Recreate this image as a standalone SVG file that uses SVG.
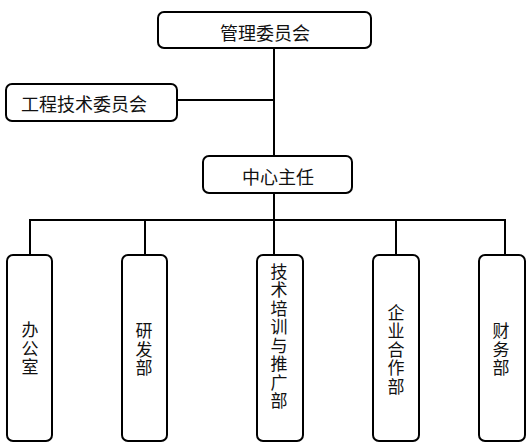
<svg xmlns="http://www.w3.org/2000/svg" width="531" height="445" viewBox="0 0 531 445">
<style>
.box{fill:#fff;stroke:#000;stroke-width:2}
.ln{fill:none;stroke:#000;stroke-width:2}
text{font-family:"Noto Sans CJK SC","Noto Sans CJK JP",sans-serif;font-size:18px;fill:#111;text-anchor:middle;dominant-baseline:central}
.v{font-size:17px;writing-mode:vertical-rl;text-orientation:upright;letter-spacing:1.5px}
</style>
<rect width="531" height="445" fill="#fff"/>
<g id="connectors">
<line class="ln" x1="274" y1="48" x2="274" y2="156"/>
<line class="ln" x1="177" y1="100" x2="274" y2="100"/>
<line class="ln" x1="274" y1="193" x2="274" y2="220"/>
<polyline class="ln" points="30,255 30,220 505,220 505,255"/>
<line class="ln" x1="145" y1="220" x2="145" y2="255"/>
<line class="ln" x1="274" y1="220" x2="274" y2="255"/>
<line class="ln" x1="396" y1="220" x2="396" y2="255"/>
</g>
<g id="n-management">
<rect class="box" x="158" y="12" width="213" height="36" rx="6"/>
<text x="265" y="32">管理委员会</text>
</g>
<g id="n-engineering">
<rect class="box" x="6" y="84" width="171" height="37" rx="6"/>
<text x="84" y="103">工程技术委员会</text>
</g>
<g id="n-director">
<rect class="box" x="203" y="156" width="149" height="37" rx="6"/>
<text x="278" y="176">中心主任</text>
</g>
<g id="n-office">
<rect class="box" x="7" y="255" width="45" height="186" rx="6"/>
<text class="v" x="30" y="349">办公室</text>
</g>
<g id="n-rd">
<rect class="box" x="122" y="255" width="45" height="186" rx="6"/>
<text class="v" x="144" y="350">研发部</text>
</g>
<g id="n-training">
<rect class="box" x="257" y="255" width="46" height="186" rx="6"/>
<text class="v" x="279" y="337">技术培训与推广部</text>
</g>
<g id="n-coop">
<rect class="box" x="373" y="255" width="46" height="186" rx="6"/>
<text class="v" x="396" y="350">企业合作部</text>
</g>
<g id="n-finance">
<rect class="box" x="479" y="255" width="46" height="186" rx="6"/>
<text class="v" x="501" y="350">财务部</text>
</g>
</svg>
